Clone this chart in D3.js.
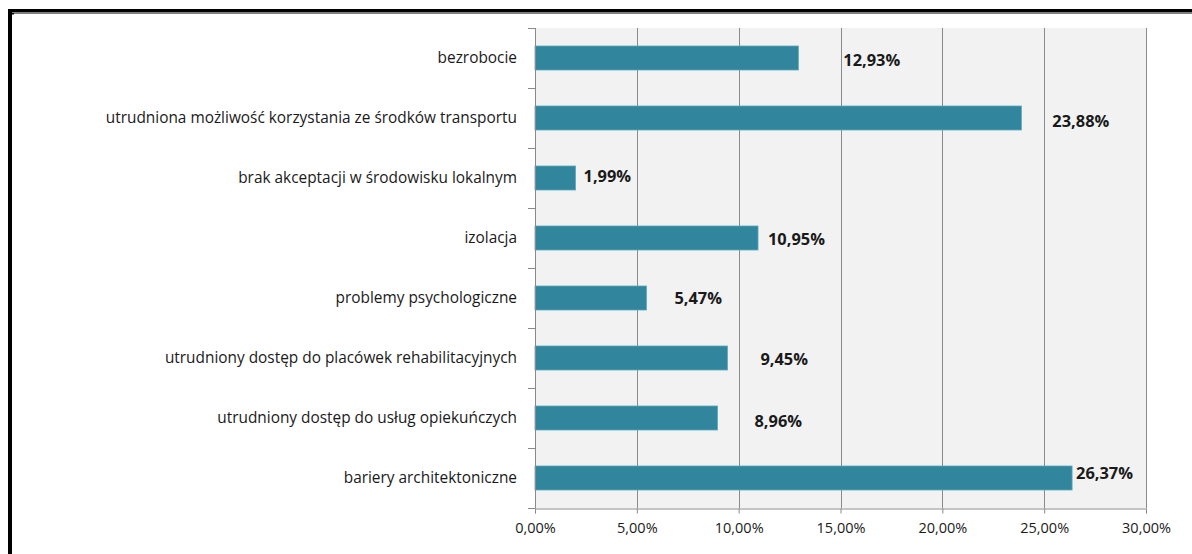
<!DOCTYPE html>
<html>
<head>
<meta charset="utf-8">
<script src="https://cdn.jsdelivr.net/npm/d3@7"></script>
<style>
  html, body { margin: 0; padding: 0; background: #fff; }
  svg { display: block; }
  text { font-family: "Open Sans", Lato, sans-serif; }
</style>
</head>
<body>
<svg id="chart" width="1192" height="554"></svg>
<script>
const categories = [
  "bezrobocie",
  "utrudniona możliwość korzystania ze środków transportu",
  "brak akceptacji w środowisku lokalnym",
  "izolacja",
  "problemy psychologiczne",
  "utrudniony dostęp do placówek rehabilitacyjnych",
  "utrudniony dostęp do usług opiekuńczych",
  "bariery architektoniczne"
];
const values = [12.93, 23.88, 1.99, 10.95, 5.47, 9.45, 8.96, 26.37];
const valueLabels = ["12,93%", "23,88%", "1,99%", "10,95%", "5,47%", "9,45%", "8,96%", "26,37%"];
const tickValues = [0, 5, 10, 15, 20, 25, 30];
const tickLabels = ["0,00%", "5,00%", "10,00%", "15,00%", "20,00%", "25,00%", "30,00%"];
// manual label nudges (px) as placed in the original
const labelDx = [45, 31, 8, 10, 28, 33, 37, 4];
const labelDy = [2, 3, -2, 1, 0, 1, 3, -5];

const svg = d3.select("#chart");
const plot = { left: 535, right: 1146, top: 28, bottom: 508 };

const x = d3.scaleLinear().domain([0, 30]).range([plot.left, plot.right]);
const y = d3.scaleBand().domain(categories).range([plot.top, plot.bottom]).paddingInner(0.6).paddingOuter(0.3);
const band = d3.scaleBand().domain(categories).range([plot.top, plot.bottom]);

// frame
svg.append("rect").attr("x", 8).attr("y", 9).attr("width", 1184).attr("height", 3).attr("fill", "#000");
svg.append("rect").attr("x", 12).attr("y", 12.5).attr("width", 1180).attr("height", 1).attr("fill", "#000");
svg.append("rect").attr("x", 8).attr("y", 9).attr("width", 4).attr("height", 545).attr("fill", "#000");
svg.append("rect").attr("x", 12).attr("y", 13).attr("width", 2).attr("height", 1.5).attr("fill", "#000");

// plot background
svg.append("rect").attr("x", plot.left).attr("y", plot.top)
  .attr("width", plot.right - plot.left).attr("height", plot.bottom - plot.top)
  .attr("fill", "#f2f2f2");

// gridlines
svg.append("g").selectAll("line").data(tickValues.slice(1)).join("line")
  .attr("x1", d => Math.round(x(d)) + 0.5).attr("x2", d => Math.round(x(d)) + 0.5)
  .attr("y1", plot.top).attr("y2", plot.bottom)
  .attr("stroke", "#8a8a8a").attr("stroke-width", 1);

// bars
svg.append("g").selectAll("rect").data(values).join("rect")
  .attr("x", x(0))
  .attr("y", (d, i) => y(categories[i]))
  .attr("width", d => x(d) - x(0))
  .attr("height", y.bandwidth())
  .attr("fill", "#31859c")
  .attr("stroke", "#5aa8bd")
  .attr("stroke-width", 0.8);

// x axis
const xAxis = d3.axisBottom(x).tickValues(tickValues).tickSize(5)
  .tickFormat((d, i) => tickLabels[i]);
const gx = svg.append("g").attr("transform", `translate(0,${plot.bottom + 0.5})`).call(xAxis);
gx.select(".domain").attr("stroke", "#8a8a8a");
gx.selectAll(".tick line").attr("stroke", "#8a8a8a");
gx.selectAll(".tick text").attr("font-family", "'Open Sans', sans-serif").attr("font-size", 14.5)
  .attr("fill", "#1a1a1a").attr("dy", 16);

// y axis line and ticks at band boundaries
svg.append("line").attr("x1", plot.left + 0.5).attr("x2", plot.left + 0.5)
  .attr("y1", plot.top).attr("y2", plot.bottom + 0.5).attr("stroke", "#8a8a8a");
const boundaries = categories.map(c => band(c)).concat([plot.bottom]);
svg.append("g").selectAll("line").data(boundaries).join("line")
  .attr("x1", plot.left - 7).attr("x2", plot.left)
  .attr("y1", d => Math.round(d) + 0.5).attr("y2", d => Math.round(d) + 0.5)
  .attr("stroke", "#8a8a8a");

// category labels
svg.append("g").selectAll("text").data(categories).join("text")
  .attr("x", 517)
  .attr("y", d => y(d) + y.bandwidth() / 2)
  .attr("dy", "0.35em")
  .attr("text-anchor", "end")
  .attr("font-size", 15.4)
  .attr("fill", "#1a1a1a")
  .text(d => d);

// value labels
svg.append("g").selectAll("text").data(values).join("text")
  .attr("x", (d, i) => x(d) + labelDx[i])
  .attr("y", (d, i) => y(categories[i]) + y.bandwidth() / 2 + labelDy[i])
  .attr("dy", "0.35em")
  .attr("font-size", 16.4)
  .attr("font-weight", "bold")
  .attr("fill", "#1a1a1a")
  .text((d, i) => valueLabels[i]);
</script>
</body>
</html>
